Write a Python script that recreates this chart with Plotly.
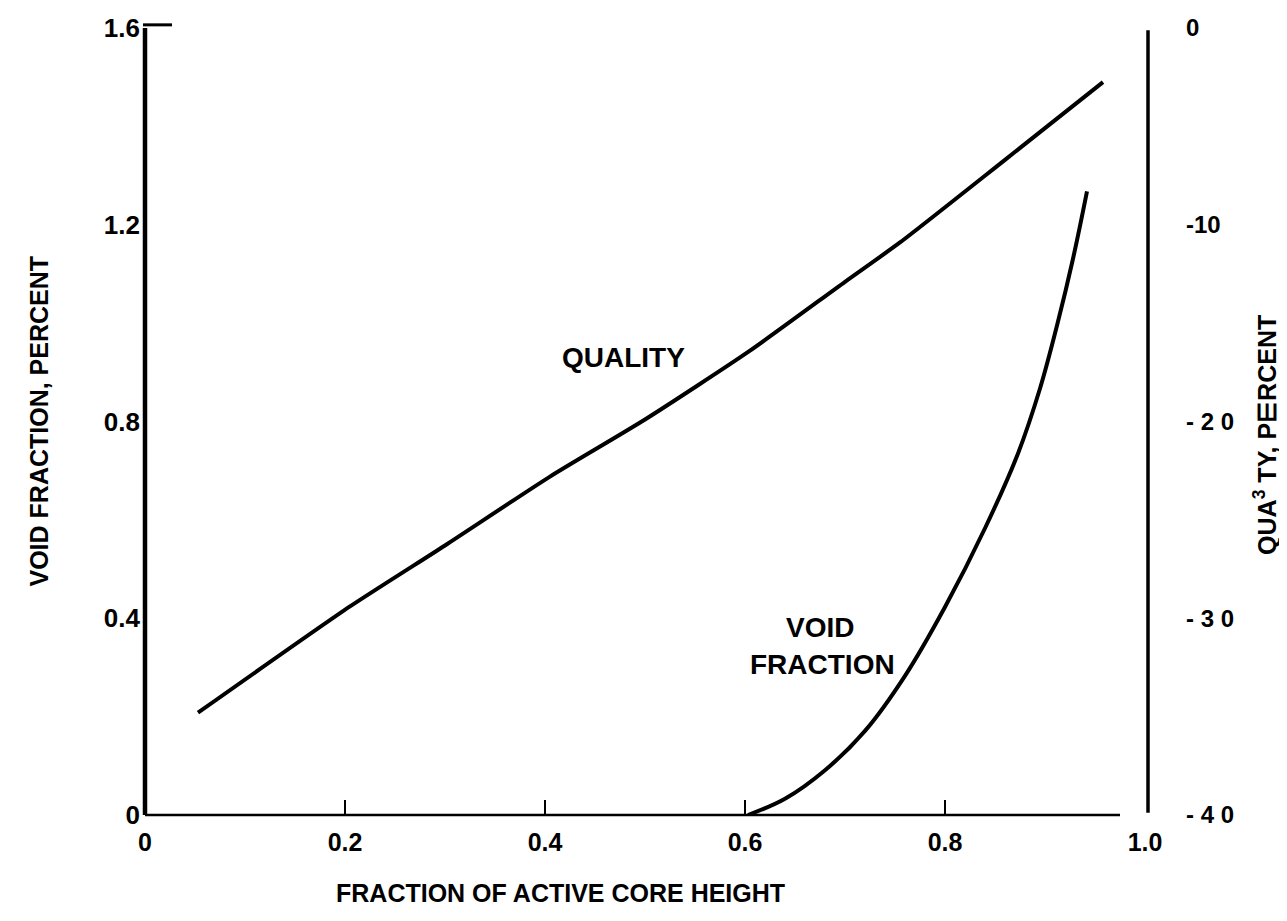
import plotly.graph_objects as go

# ---- data ----
quality_x = [0.053, 0.205, 0.30, 0.405, 0.50, 0.605, 0.70, 0.755, 0.86, 0.958]
quality_pct = [-34.8, -29.4, -26.3, -22.8, -19.9, -16.4, -12.9, -10.9, -6.7, -2.75]

void_x = [0.603, 0.64, 0.68, 0.72, 0.76, 0.80, 0.84, 0.873, 0.895, 0.912, 0.928, 0.942]
void_pct = [0.0, 0.033, 0.091, 0.171, 0.283, 0.423, 0.583, 0.735, 0.867, 0.995, 1.131, 1.268]

x_tickvals = [0, 0.2, 0.4, 0.6, 0.8, 1.0]
x_ticktext = ["0", "0.2", "0.4", "0.6", "0.8", "1.0"]
y_tickvals = [0, 0.4, 0.8, 1.2, 1.6]
y_ticktext = ["0", "0.4", "0.8", "1.2", "1.6"]
y2_tickvals = [-40, -30, -20, -10, 0]
y2_ticktext = ["- 4 0", "- 3 0", "- 2 0", "-10", "0"]

FONT = "Liberation Sans, Arial, sans-serif"

fig = go.Figure()
fig.add_trace(go.Scatter(x=quality_x, y=quality_pct, mode="lines", yaxis="y2",
                         line=dict(color="black", width=4, shape="spline", smoothing=0.6),
                         showlegend=False, hoverinfo="skip"))
fig.add_trace(go.Scatter(x=void_x, y=void_pct, mode="lines",
                         line=dict(color="black", width=4, shape="spline", smoothing=1.0),
                         showlegend=False, hoverinfo="skip"))

# page has an 8px body margin: figure sized/margined to compensate
fig.update_layout(
    width=1279, height=913,
    margin=dict(l=137, r=142, t=20, b=106, autoexpand=False),
    paper_bgcolor="white", plot_bgcolor="white",
    font=dict(family=FONT, color="black"),
    xaxis=dict(range=[0, 1.0], tickvals=x_tickvals, ticktext=x_ticktext,
               ticks="inside", ticklen=15, tickwidth=2, tickcolor="black",
               showgrid=False, zeroline=False, showline=False,
               tickfont=dict(size=25, weight="bold", family=FONT),
               ticklabelstandoff=10),
    yaxis=dict(range=[0, 1.6], tickvals=y_tickvals, ticktext=y_ticktext,
               ticks="", showgrid=False, zeroline=False, showline=False,
               tickfont=dict(size=26, weight="bold", family=FONT),
               ticklabelstandoff=4),
    yaxis2=dict(range=[-40, 0], overlaying="y", side="right",
                tickvals=y2_tickvals, ticktext=y2_ticktext,
                ticks="", showgrid=False, zeroline=False, showline=False,
                tickfont=dict(size=24, weight="bold", family=FONT),
                ticklabelstandoff=40),
)

# axis frame lines (paper coordinates so they are not clipped)
fig.add_shape(type="line", xref="paper", yref="paper", x0=0, x1=0, y0=0, y1=1,
              line=dict(color="black", width=4.5))
fig.add_shape(type="line", xref="paper", yref="paper", x0=-0.002, x1=0.027, y0=1.004, y1=1.004,
              line=dict(color="black", width=3))
fig.add_shape(type="line", xref="paper", yref="paper", x0=0, x1=0.975, y0=0, y1=0,
              line=dict(color="black", width=2.5))
fig.add_shape(type="line", xref="paper", yref="paper", x0=1.003, x1=1.003, y0=0.003, y1=0.997,
              line=dict(color="black", width=3.5))

# titles and labels
def label(text, x, y, size, ref="paper", angle=0):
    fig.add_annotation(text=text, xref=ref, yref=ref if ref == "paper" else "y",
                       x=x, y=y, showarrow=False, textangle=angle,
                       xanchor="center", yanchor="middle",
                       font=dict(size=size, weight="bold", family=FONT))

label("FRACTION OF ACTIVE CORE HEIGHT", 0.415, -0.099, 25)
label("VOID FRACTION, PERCENT", -0.107, 0.50, 25, angle=-90)
label("QUA<sup>3</sup> TY, P\u22FFRCENT", 1.12, 0.483, 25, angle=-90)
label("QUALITY", 0.478, 0.931, 28, ref="x")
label("VOID", 0.675, 0.382, 28, ref="x")
label("FRACTION", 0.677, 0.305, 28, ref="x")

fig.write_html("out.html")
